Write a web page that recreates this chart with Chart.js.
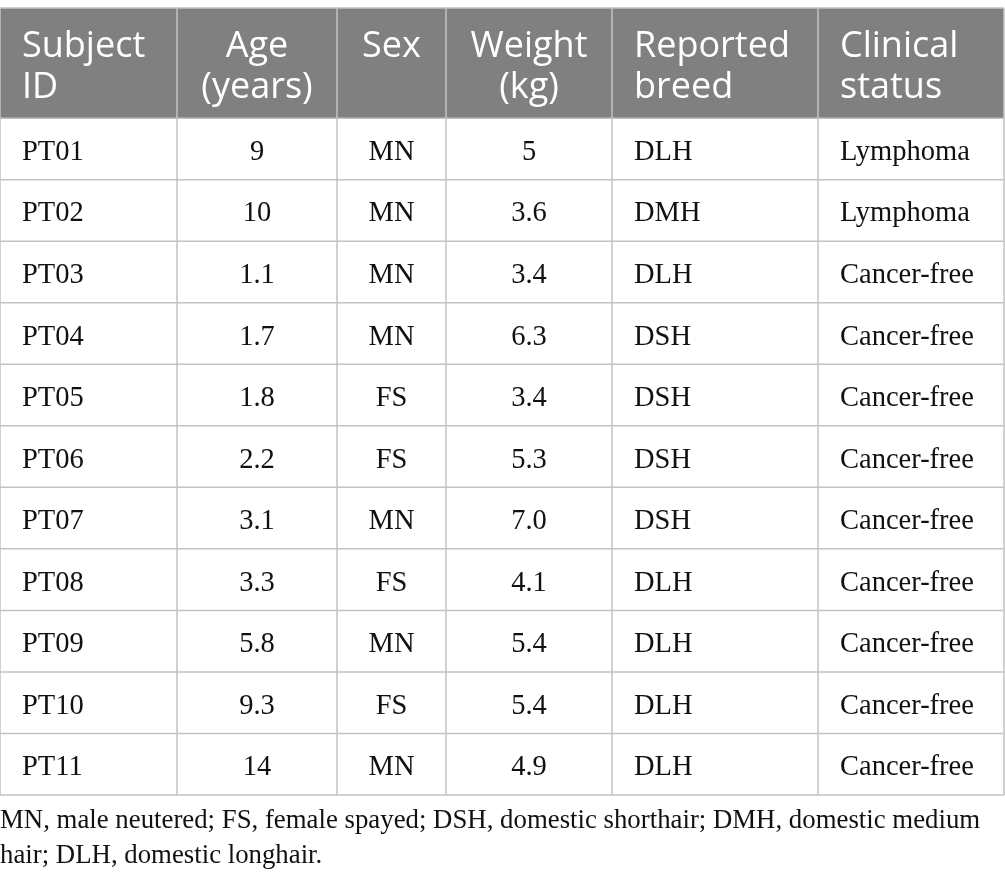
<!DOCTYPE html>
<html>
<head>
<meta charset="utf-8">
<script src="https://cdn.jsdelivr.net/npm/chart.js@4.4.1/dist/chart.umd.min.js"></script>
<style>
  html, body { margin: 0; padding: 0; background: #fff; }
  #wrap { width: 1005px; height: 888px; position: relative; }
</style>
</head>
<body>
<div id="wrap"><canvas id="tableChart"></canvas></div>
<script>
// table content
const headers = [["Subject", "ID"], ["Age", "(years)"], ["Sex"], ["Weight", "(kg)"], ["Reported", "breed"], ["Clinical", "status"]];
const subjectIds = ["PT01", "PT02", "PT03", "PT04", "PT05", "PT06", "PT07", "PT08", "PT09", "PT10", "PT11"];
const ages = ["9", "10", "1.1", "1.7", "1.8", "2.2", "3.1", "3.3", "5.8", "9.3", "14"];
const sexes = ["MN", "MN", "MN", "MN", "FS", "FS", "MN", "FS", "MN", "FS", "MN"];
const weights = ["5", "3.6", "3.4", "6.3", "3.4", "5.3", "7.0", "4.1", "5.4", "5.4", "4.9"];
const breeds = ["DLH", "DMH", "DLH", "DSH", "DSH", "DSH", "DSH", "DLH", "DLH", "DLH", "DLH"];
const statuses = ["Lymphoma", "Lymphoma", "Cancer-free", "Cancer-free", "Cancer-free", "Cancer-free",
  "Cancer-free", "Cancer-free", "Cancer-free", "Cancer-free", "Cancer-free"];
const footnote = [
  "MN, male neutered; FS, female spayed; DSH, domestic shorthair; DMH, domestic medium",
  "hair; DLH, domestic longhair."
];

// layout (x in scale units, header height in row units)
const colEdges = [0, 177, 337, 446, 612, 818, 1004];
const colAlign = ["left", "center", "center", "center", "left", "left"];
const headerRows = 1.79;
const cellPad = 22;
const lineColor = "#c2c2c2";

const columns = [subjectIds, ages, sexes, weights, breeds, statuses];

const tablePlugin = {
  id: "tablePlugin",
  afterDraw(chart) {
    const { ctx, scales: { x, y } } = chart;
    const left = x.getPixelForValue(colEdges[0]);
    const right = x.getPixelForValue(colEdges[colEdges.length - 1]);
    const top = y.getPixelForValue(-headerRows);
    const headBottom = y.getPixelForValue(0);
    const bottom = y.getPixelForValue(subjectIds.length);

    ctx.save();
    // header band
    ctx.fillStyle = "#808080";
    ctx.fillRect(left, top, right - left, headBottom - top);

    // header text
    ctx.fillStyle = "#fff";
    ctx.font = "36px 'Open Sans'";
    headers.forEach((lines, c) => {
      const x0 = x.getPixelForValue(colEdges[c]);
      const x1 = x.getPixelForValue(colEdges[c + 1]);
      ctx.textAlign = colAlign[c];
      const tx = colAlign[c] === "center" ? (x0 + x1) / 2 : x0 + cellPad;
      lines.forEach((t, i) => ctx.fillText(t, tx, top + 49 + i * 41));
    });

    // body text
    ctx.fillStyle = "#111";
    ctx.font = "28.5px 'Liberation Serif'";
    columns.forEach((vals, c) => {
      const x0 = x.getPixelForValue(colEdges[c]);
      const x1 = x.getPixelForValue(colEdges[c + 1]);
      ctx.textAlign = colAlign[c];
      const tx = colAlign[c] === "center" ? (x0 + x1) / 2 : x0 + cellPad;
      vals.forEach((v, r) => {
        const cy = y.getPixelForValue(r + 0.5);
        ctx.fillText(v, tx, cy + 11);
      });
    });

    // grid lines
    ctx.strokeStyle = lineColor;
    ctx.lineWidth = 1.5;
    ctx.beginPath();
    ctx.moveTo(left, top); ctx.lineTo(right, top);
    for (let r = 0; r <= subjectIds.length; r++) {
      const py = y.getPixelForValue(r);
      ctx.moveTo(left, py); ctx.lineTo(right, py);
    }
    colEdges.forEach(e => {
      const px = x.getPixelForValue(e);
      ctx.moveTo(px, top); ctx.lineTo(px, bottom);
    });
    ctx.stroke();

    // footnote
    ctx.fillStyle = "#111";
    ctx.textAlign = "left";
    ctx.font = "26.8px 'Liberation Serif'";
    footnote.forEach((t, i) => ctx.fillText(t, left, bottom + 33 + i * 35));
    ctx.restore();
  }
};

new Chart(document.getElementById("tableChart"), {
  type: "scatter",
  data: { datasets: [{ data: [], pointRadius: 0 }] },
  options: {
    responsive: true,
    maintainAspectRatio: false,
    animation: false,
    layout: { padding: { top: 8, bottom: 93, left: 0, right: 0 } },
    plugins: { legend: { display: false }, tooltip: { enabled: false } },
    scales: {
      x: { type: "linear", min: 0, max: 1005, display: false },
      y: { type: "linear", min: -headerRows, max: subjectIds.length, reverse: true, display: false }
    }
  },
  plugins: [tablePlugin]
});
</script>
</body>
</html>
